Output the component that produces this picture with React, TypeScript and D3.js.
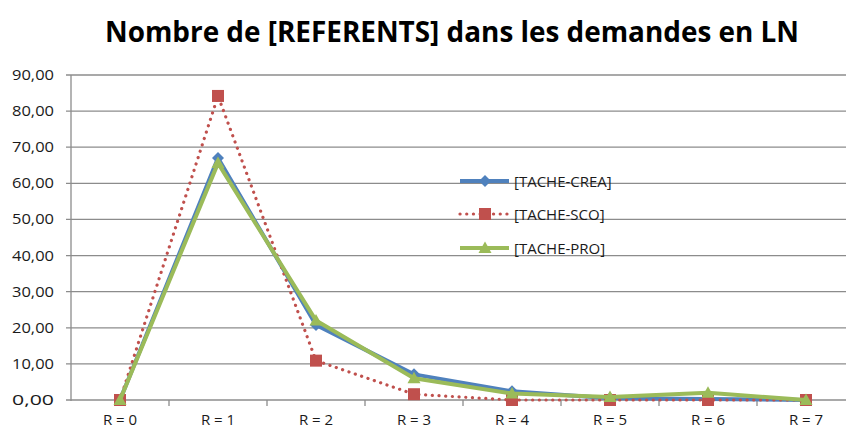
import React from "react";
import * as d3 from "d3";

const categories = ["R = 0", "R = 1", "R = 2", "R = 3", "R = 4", "R = 5", "R = 6", "R = 7"];
const creaValues = [0, 67, 20.8, 7.1, 2.4, 0.5, 0.3, 0];
const scoValues = [0, 84.2, 10.9, 1.6, 0, 0, 0, 0];
const proValues = [0, 65.6, 22, 6, 1.8, 0.8, 2, 0];
const yTicks = [0, 10, 20, 30, 40, 50, 60, 70, 80, 90];
const seriesNames = ["[TACHE-CREA]", "[TACHE-SCO]", "[TACHE-PRO]"];

const W = 846;
const H = 430;
const left = 71;
const right = 855;
const top = 75;
const bottom = 400;

export default function App() {
  const x = d3.scaleBand<string>().domain(categories).range([left, right]);
  const y = d3.scaleLinear().domain([0, 90]).range([bottom, top]);
  const cx = (c: string) => (x(c) as number) + x.bandwidth() / 2;
  const line = (vals: number[]) =>
    d3.line<number>().x((_, i) => cx(categories[i])).y((v) => y(v))(vals) as string;

  const diamond = (px: number, py: number, r: number) =>
    `M${px},${py - r}L${px + r},${py}L${px},${py + r}L${px - r},${py}Z`;
  const tri = (px: number, py: number, r: number) =>
    `M${px},${py - r}L${px + r},${py + r * 0.75}L${px - r},${py + r * 0.75}Z`;

  const font = "'Open Sans', 'Liberation Sans', Arial, sans-serif";
  const blue = "#4F81BD";
  const red = "#C0504D";
  const green = "#9BBB59";
  const grid = "#8c8c8c";
  const textCol = "#1a1a1a";

  const legendX = 460;
  const legendY = [181, 214, 248];

  return (
    <svg width={W} height={H} style={{ position: "absolute", left: 0, top: 0, background: "#fff" }}>
      <text x={452} y={42} textAnchor="middle" fontFamily="'Open Sans', sans-serif" fontWeight="bold" fontSize={28} textLength={694} lengthAdjust="spacingAndGlyphs" fill="#000">
        Nombre de [REFERENTS] dans les demandes en LN
      </text>
      {yTicks.map((t) => (
        <g key={t}>
          <line x1={left - 5} x2={right} y1={y(t)} y2={y(t)} stroke={grid} strokeWidth={1.3} />
          <text x={54} y={y(t) + 5} textAnchor="end" fontFamily={font} fontSize={14} textLength={42} lengthAdjust="spacingAndGlyphs" fill={textCol}>
            {d3.format(".2f")(t).replace(".", ",")}
          </text>
        </g>
      ))}
      <line x1={left} x2={left} y1={top} y2={bottom + 1} stroke={grid} strokeWidth={1.3} />
      {categories.map((c) => (
        <g key={c}>
          <line x1={(x(c) as number) + x.bandwidth()} x2={(x(c) as number) + x.bandwidth()} y1={bottom} y2={bottom + 6} stroke={grid} strokeWidth={1.3} />
          <text x={cx(c)} y={425} textAnchor="middle" fontFamily={font} fontSize={15} fill={textCol}>
            {c}
          </text>
        </g>
      ))}
      {/* CREA */}
      <path d={line(creaValues)} fill="none" stroke={blue} strokeWidth={4} strokeLinejoin="round" />
      {creaValues.map((v, i) => (
        <path key={"c" + i} d={diamond(cx(categories[i]), y(v), 6)} fill={blue} />
      ))}
      {/* SCO */}
      <path d={line(scoValues)} fill="none" stroke={red} strokeWidth={3.2} strokeDasharray="0.1,6.6" strokeLinecap="round" />
      {scoValues.map((v, i) => (
        <rect key={"s" + i} x={cx(categories[i]) - 6} y={y(v) - 6} width={12} height={12} fill={red} />
      ))}
      {/* PRO */}
      <path d={line(proValues)} fill="none" stroke={green} strokeWidth={4} strokeLinejoin="round" />
      {proValues.map((v, i) => (
        <path key={"p" + i} d={tri(cx(categories[i]), y(v), 6.5)} fill={green} />
      ))}
      {/* Legend */}
      <g>
        <line x1={legendX} x2={legendX + 49} y1={legendY[0]} y2={legendY[0]} stroke={blue} strokeWidth={4} />
        <path d={diamond(legendX + 25, legendY[0], 6)} fill={blue} />
        <line x1={legendX} x2={legendX + 49} y1={legendY[1]} y2={legendY[1]} stroke={red} strokeWidth={3.2} strokeDasharray="0.1,6.6" strokeLinecap="round" />
        <rect x={legendX + 19} y={legendY[1] - 6} width={12} height={12} fill={red} />
        <line x1={legendX} x2={legendX + 49} y1={legendY[2]} y2={legendY[2]} stroke={green} strokeWidth={4} />
        <path d={tri(legendX + 25, legendY[2], 6.5)} fill={green} />
        {seriesNames.map((n, i) => (
          <text key={n} x={514} y={legendY[i] + 5.5} fontFamily={font} fontSize={15} fill={textCol}>
            {n}
          </text>
        ))}
      </g>
    </svg>
  );
}
